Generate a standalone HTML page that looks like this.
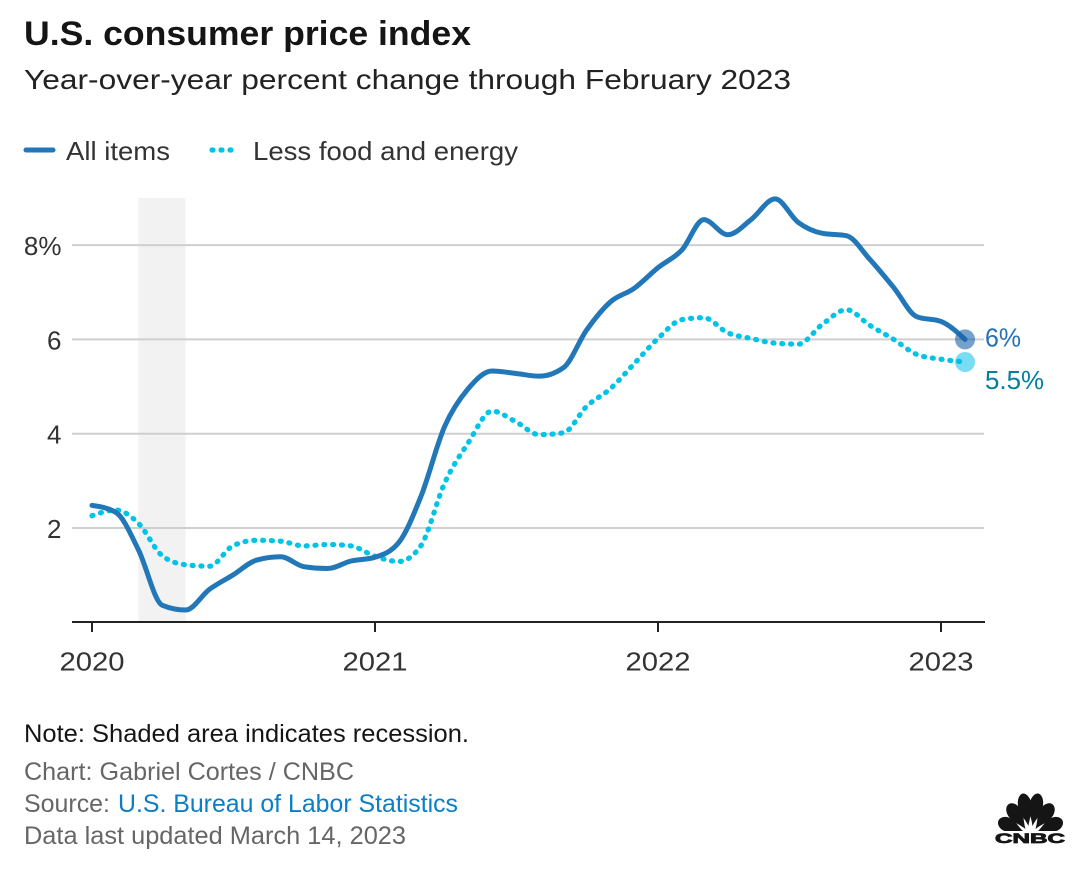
<!DOCTYPE html>
<html lang="en">
<head>
<meta charset="utf-8">
<title>U.S. consumer price index</title>
<style>
html,body{margin:0;padding:0;background:#fff;width:1082px;height:886px;overflow:hidden}
svg{display:block}
text{font-family:"Liberation Sans",sans-serif}
</style>
</head>
<body>
<svg id="chart" xmlns="http://www.w3.org/2000/svg" width="1082" height="886" viewBox="0 0 1082 886">
  <text x="24" y="45" font-size="34" font-weight="700" fill="#151515" textLength="447" lengthAdjust="spacingAndGlyphs">U.S. consumer price index</text>
  <text x="24" y="89" font-size="28" fill="#222" textLength="767" lengthAdjust="spacingAndGlyphs">Year-over-year percent change through February 2023</text>

  <g>
    <line x1="26" y1="150" x2="53" y2="150" stroke="#2277b8" stroke-width="5" stroke-linecap="round"/>
    <text x="66" y="160" font-size="26" fill="#333" textLength="104" lengthAdjust="spacingAndGlyphs">All items</text>
    <line x1="212" y1="150" x2="231" y2="150" stroke="#00c3e8" stroke-width="5.2" stroke-linecap="round" stroke-dasharray="1 8"/>
    <text x="253" y="160" font-size="26" fill="#333" textLength="265" lengthAdjust="spacingAndGlyphs">Less food and energy</text>
  </g>

  <g id="plot"></g>

  <g>
    <text x="24" y="742" font-size="25" fill="#151515" textLength="445" lengthAdjust="spacingAndGlyphs">Note: Shaded area indicates recession.</text>
    <text x="24" y="780" font-size="25" fill="#666" textLength="330" lengthAdjust="spacingAndGlyphs">Chart: Gabriel Cortes / CNBC</text>
    <text x="24" y="812" font-size="25" fill="#666" textLength="86" lengthAdjust="spacingAndGlyphs">Source:</text>
    <text x="118" y="812" font-size="25" fill="#0a7fc4" textLength="340" lengthAdjust="spacingAndGlyphs">U.S. Bureau of Labor Statistics</text>
    <text x="24" y="844" font-size="25" fill="#666" textLength="382" lengthAdjust="spacingAndGlyphs">Data last updated March 14, 2023</text>
  </g>

  <g>
    <g fill="#151515">
      <path transform="translate(1028.5 826) rotate(-10)" d="M0,0C-2,-7 -7,-14 -6.8,-22C-6.5,-29 -3,-33 0,-33C3,-33 6.5,-29 6.8,-22C7,-14 2,-7 0,0Z"/>
      <path transform="translate(1032.5 826) rotate(10)" d="M0,0C-2,-7 -7,-14 -6.8,-22C-6.5,-29 -3,-33 0,-33C3,-33 6.5,-29 6.8,-22C7,-14 2,-7 0,0Z"/>
      <path transform="translate(1025.5 829) rotate(-34)" d="M0,0C-2,-7 -7.5,-13 -7,-21C-6.5,-27 -3,-30 0,-30C3,-30 6.5,-27 7,-21C7.5,-13 2,-7 0,0Z"/>
      <path transform="translate(1035.5 829) rotate(34)" d="M0,0C-2,-7 -7.5,-13 -7,-21C-6.5,-27 -3,-30 0,-30C3,-30 6.5,-27 7,-21C7.5,-13 2,-7 0,0Z"/>
      <path transform="translate(1024 832) rotate(-66)" d="M0,0C-2,-7 -7.5,-12 -7,-20C-6.5,-25 -3,-28 0,-28C3,-28 6.5,-25 7,-20C7.5,-12 2,-7 0,0Z"/>
      <path transform="translate(1037 832) rotate(66)" d="M0,0C-2,-7 -7.5,-12 -7,-20C-6.5,-25 -3,-28 0,-28C3,-28 6.5,-25 7,-20C7.5,-12 2,-7 0,0Z"/>
    </g>
    <rect x="993" y="831" width="74" height="14" fill="#fff"/>
    <text x="995" y="843" font-size="14" font-weight="700" fill="#151515" stroke="#151515" stroke-width="0.8" textLength="70" lengthAdjust="spacingAndGlyphs">CNBC</text>
  </g>
</svg>

<script>
const yearLabels = ["2020", "2021", "2022", "2023"];
const yearMonths = [0, 12, 24, 36];
const yTickValues = [8, 6, 4, 2];
const yTickLabels = ["8%", "6", "4", "2"];
const allItems = [
  2.48, 2.33, 1.54, 0.36, 0.26, 0.70, 1.00, 1.32, 1.39, 1.18, 1.14, 1.30,
  1.38, 1.70, 2.66, 4.16, 4.95, 5.33, 5.28, 5.22, 5.40, 6.20, 6.80, 7.08,
  7.52, 7.90, 8.54, 8.22, 8.54, 8.98, 8.48, 8.25, 8.20, 7.70, 7.10, 6.48,
  6.38, 6.00
];
const lessFoodEnergy = [
  2.26, 2.38, 2.10, 1.41, 1.22, 1.19, 1.62, 1.74, 1.72, 1.62, 1.65, 1.62,
  1.40, 1.29, 1.62, 2.96, 3.80, 4.48, 4.26, 3.98, 4.02, 4.58, 4.96, 5.48,
  6.02, 6.42, 6.46, 6.14, 6.02, 5.92, 5.90, 6.32, 6.63, 6.30, 6.00, 5.68,
  5.58, 5.52
];
const recessionMonths = [2, 4];
const endLabels = ["6%", "5.5%"];

const SVG_NS = "http://www.w3.org/2000/svg";
const plot = document.getElementById("plot");

/* Time axis: m = months since Jan 2020, positioned by calendar day */
function xScale(m) {
  const year = 2020 + Math.floor(m / 12);
  const month = m - (year - 2020) * 12;
  const yearStart = Date.UTC(year, 0, 1);
  const yearEnd = Date.UTC(year + 1, 0, 1);
  return 92 + 283 * ((year - 2020) + (Date.UTC(year, month, 1) - yearStart) / (yearEnd - yearStart));
}
function yScale(v) { return 622.3 - v * 47.15; }

function make(tag, attrs, parent) {
  const el = document.createElementNS(SVG_NS, tag);
  for (const k in attrs) el.setAttribute(k, attrs[k]);
  (parent || plot).appendChild(el);
  return el;
}

/* Monotone cubic interpolation: flat at local extremes, no overshoot */
function smoothPath(values) {
  const p = values.map((v, i) => [xScale(i), yScale(v)]);
  const n = p.length;
  const slopes = [];
  for (let i = 0; i < n - 1; i++) slopes.push((p[i + 1][1] - p[i][1]) / (p[i + 1][0] - p[i][0]));
  const m = new Array(n);
  for (let i = 1; i < n - 1; i++) {
    const h0 = p[i][0] - p[i - 1][0], h1 = p[i + 1][0] - p[i][0];
    const s0 = slopes[i - 1], s1 = slopes[i];
    const mid = (s0 * h1 + s1 * h0) / (h0 + h1);
    const sign = Math.sign(s0) + Math.sign(s1);
    m[i] = sign === 0 ? 0 : sign * Math.min(Math.abs(s0), Math.abs(s1), 0.5 * Math.abs(mid));
  }
  m[0] = (3 * slopes[0] - m[1]) / 2;
  m[n - 1] = (3 * slopes[n - 2] - m[n - 2]) / 2;
  let d = "M" + p[0][0].toFixed(2) + "," + p[0][1].toFixed(2);
  for (let i = 0; i < n - 1; i++) {
    const h = (p[i + 1][0] - p[i][0]) / 3;
    d += "C" + (p[i][0] + h).toFixed(2) + "," + (p[i][1] + h * m[i]).toFixed(2) + " " +
      (p[i + 1][0] - h).toFixed(2) + "," + (p[i + 1][1] - h * m[i + 1]).toFixed(2) + " " +
      p[i + 1][0].toFixed(2) + "," + p[i + 1][1].toFixed(2);
  }
  return d;
}

const shade = make("rect", {
  x: xScale(recessionMonths[0]),
  y: 198,
  width: xScale(recessionMonths[1]) - xScale(recessionMonths[0]),
  height: 424,
  fill: "#f2f2f2"
});



yTickValues.forEach((v, i) => {
  const grid = make("line", { x1: 72, x2: 984, y1: yScale(v), y2: yScale(v), stroke: "#cfcfcf", "stroke-width": 2 });
  
  
  const label = make("text", { x: 61.5, y: yScale(v) + 10, "text-anchor": "end", "font-size": 26, fill: "#333" });
  
  
  label.textContent = yTickLabels[i];
});

const baseline = make("line", { x1: 72, x2: 985, y1: 622, y2: 622, stroke: "#222", "stroke-width": 2 });



yearMonths.forEach((m, i) => {
  const tick = make("line", { x1: xScale(m), x2: xScale(m), y1: 622, y2: 632, stroke: "#222", "stroke-width": 2 });
  
  
  const label = make("text", { x: xScale(m), y: 670.5, "text-anchor": "middle", "font-size": 26, fill: "#333", textLength: 65, lengthAdjust: "spacingAndGlyphs" });
  
  
  label.textContent = yearLabels[i];
});

const lineCore = make("path", {
  d: smoothPath(lessFoodEnergy), fill: "none", stroke: "#00c3e8", "stroke-width": 5.2,
  "stroke-linecap": "round", "stroke-linejoin": "round"
});


/* Fit the dot rhythm so the last dot falls 7px short of the end point */
const dottedLength = lineCore.getTotalLength() - 7;
const dotPeriod = dottedLength / Math.round(dottedLength / 8.85);
lineCore.setAttribute("stroke-dasharray", "1 " + (dotPeriod - 1).toFixed(3));

const lineAll = make("path", {
  d: smoothPath(allItems), fill: "none", stroke: "#2277b8", "stroke-width": 5,
  "stroke-linecap": "round", "stroke-linejoin": "round"
});



const last = allItems.length - 1;
const dotAll = make("circle", { cx: xScale(last), cy: yScale(allItems[last]), r: 10, fill: "#1a62a8", "fill-opacity": 0.6 });


const dotCore = make("circle", { cx: xScale(last), cy: yScale(lessFoodEnergy[last]), r: 10, fill: "#00bbe6", "fill-opacity": 0.52 });



const endAll = make("text", { x: 985, y: yScale(allItems[last]) + 7, "font-size": 26, fill: "#2272b5", textLength: 36, lengthAdjust: "spacingAndGlyphs" });


endAll.textContent = endLabels[0];
const endCore = make("text", { x: 985, y: yScale(lessFoodEnergy[last]) + 27, "font-size": 26, fill: "#007f9f", textLength: 59, lengthAdjust: "spacingAndGlyphs" });


endCore.textContent = endLabels[1];
</script>
</body>
</html>
